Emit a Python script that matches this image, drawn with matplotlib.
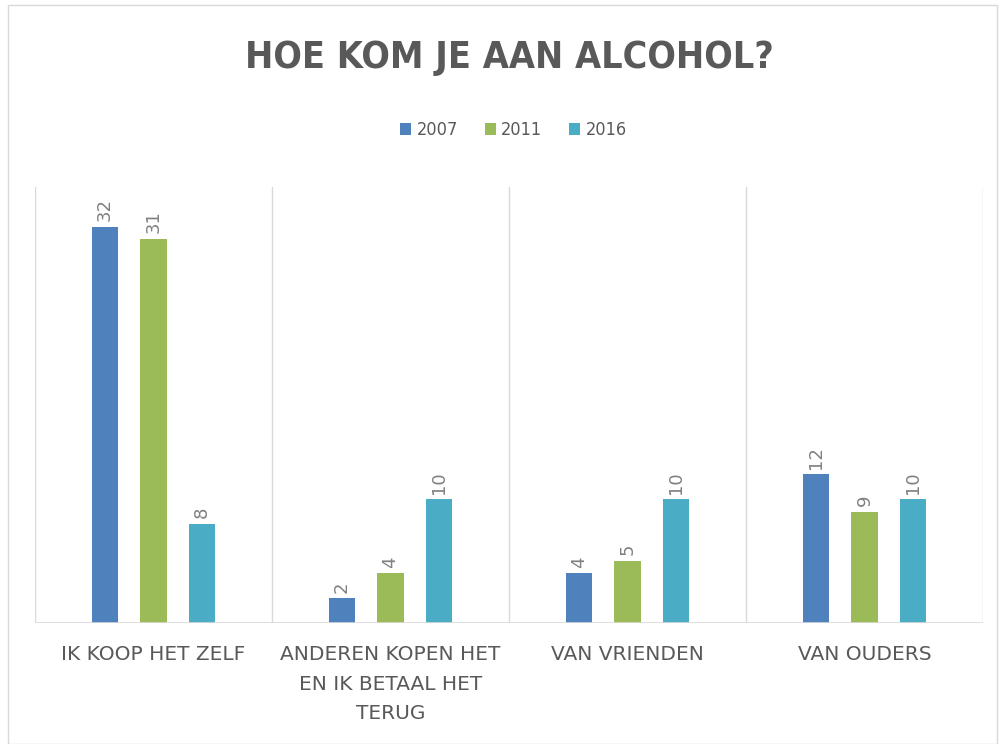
import matplotlib
matplotlib.use("Agg")
import matplotlib.pyplot as plt
from matplotlib.patches import Rectangle

# data
categories = ["IK KOOP HET ZELF", "ANDEREN KOPEN HET\nEN IK BETAAL HET\nTERUG", "VAN VRIENDEN", "VAN OUDERS"]
years = ["2007", "2011", "2016"]
v2007 = [32, 2, 4, 12]
v2011 = [31, 4, 5, 9]
v2016 = [8, 10, 10, 10]
colors = ["#4F81BD", "#9BBB59", "#4BACC6"]

plt.rcParams['font.family'] = ['DejaVu Sans']
plt.rcParams['font.stretch'] = 'condensed'

fig = plt.figure(figsize=(10.03, 7.44), dpi=100)
fig.patches.append(Rectangle((8 / 1003, 0.0), 989 / 1003, 739 / 744, transform=fig.transFigure,
                             fill=False, edgecolor="#D9D9D9", linewidth=1))
ax = fig.add_axes([35 / 1003, 121 / 744, 948 / 1003, 436 / 744])

series = [v2007, v2011, v2016]
width = 0.11
offsets = [-0.205, 0.0, 0.205]
xs = list(range(len(categories)))
for vals, off, c, yr in zip(series, offsets, colors, years):
    pos = [x + 0.5 + off for x in xs]
    bars = ax.bar(pos, vals, width=width, color=c, label=yr, zorder=3)
    for b, v in zip(bars, vals):
        ax.text(b.get_x() + b.get_width() / 2, v + 0.45, str(v), rotation=90,
                ha="center", va="bottom", fontsize=13, color="#808080",
                fontstretch="normal")

ax.set_xlim(0, len(categories))
ax.set_ylim(0, 35.2)
for x in range(len(categories) + 1):
    ax.axvline(x, color="#D9D9D9", linewidth=1, zorder=1)
ax.axhline(0, color="#D9D9D9", linewidth=1.2, zorder=4)

ax.set_yticks([])
ax.set_xticks([x + 0.5 for x in xs])
ax.set_xticklabels(categories, fontsize=14.5, color="#595959", linespacing=1.7,
                   fontstretch="normal")
ax.tick_params(axis="x", length=0, pad=16)
for s in ax.spines.values():
    s.set_visible(False)

fig.text(0.508, 0.922, "HOE KOM JE AAN ALCOHOL?", ha="center", va="center",
         fontsize=27, fontweight="bold", color="#595959")
fig.legend(loc="center", bbox_to_anchor=(0.512, 0.825), ncol=3, frameon=False,
           fontsize=13, handlelength=0.6, handleheight=0.6, handletextpad=0.3,
           columnspacing=1.5, labelcolor="#595959")

fig.savefig("out.png", dpi=100)
